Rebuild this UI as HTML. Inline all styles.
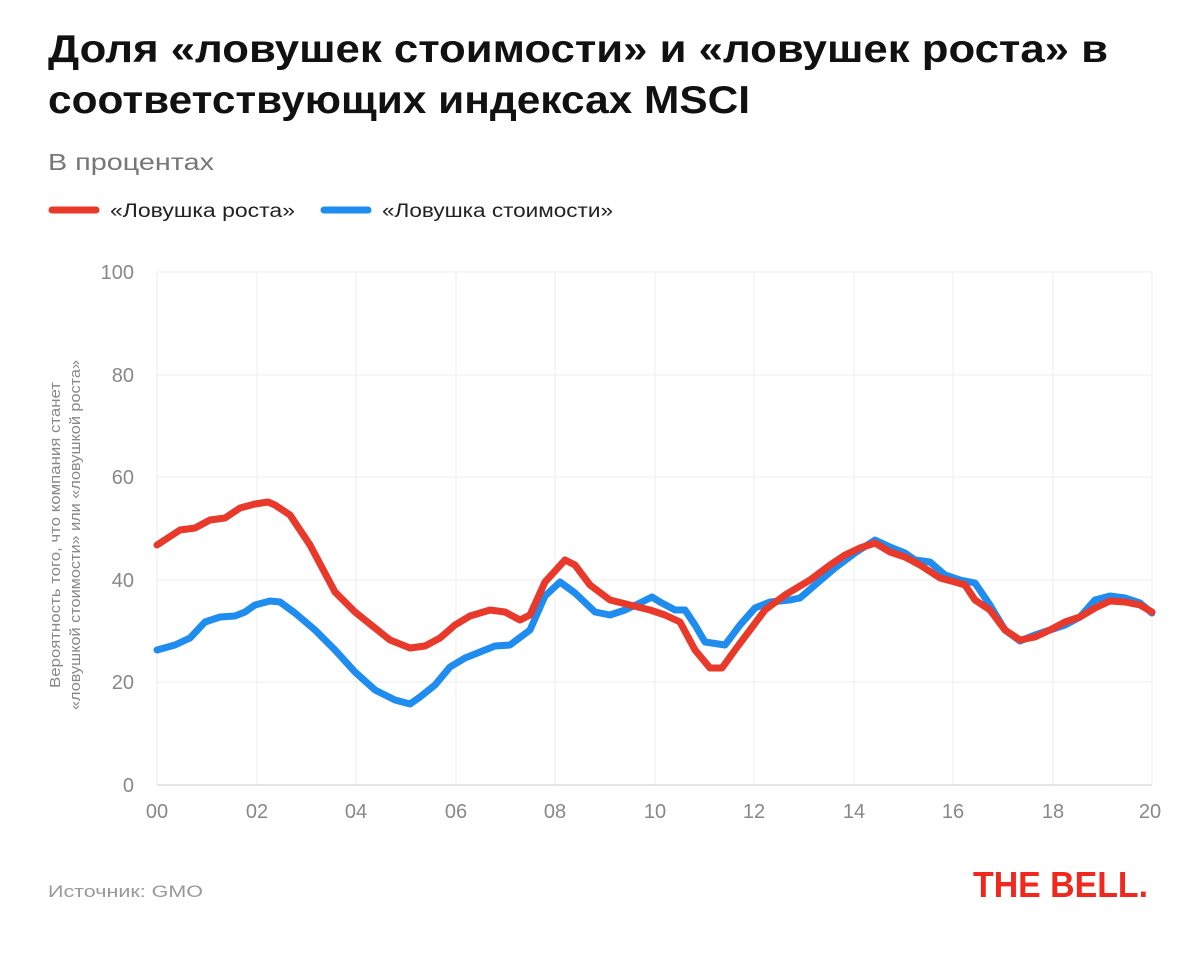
<!DOCTYPE html>
<html><head><meta charset="utf-8"><style>
body{margin:0;background:#fff;width:1200px;height:957px;overflow:hidden;font-family:"Liberation Sans",sans-serif;}
</style></head><body>
<svg width="1200" height="957" viewBox="0 0 1200 957" xmlns="http://www.w3.org/2000/svg" font-family="Liberation Sans, sans-serif">
<text x="48" y="62" font-size="39" font-weight="bold" fill="#111" textLength="1060" lengthAdjust="spacingAndGlyphs">Доля «ловушек стоимости» и «ловушек роста» в</text>
<text x="48" y="113" font-size="39" font-weight="bold" fill="#111" textLength="702" lengthAdjust="spacingAndGlyphs">соответствующих индексах MSCI</text>
<text x="48" y="170" font-size="23" fill="#777" textLength="166" lengthAdjust="spacingAndGlyphs">В процентах</text>
<line x1="52" y1="210" x2="96" y2="210" stroke="#e8392a" stroke-width="7" stroke-linecap="round"/>
<text x="110" y="217" font-size="19" fill="#222" textLength="185" lengthAdjust="spacingAndGlyphs">«Ловушка роста»</text>
<line x1="324" y1="210" x2="368" y2="210" stroke="#1f8cf0" stroke-width="7" stroke-linecap="round"/>
<text x="382" y="217" font-size="19" fill="#222" textLength="231" lengthAdjust="spacingAndGlyphs">«Ловушка стоимости»</text>
<g stroke="#ececec" stroke-width="1">
<line x1="157" y1="272" x2="1152" y2="272"/><line x1="157" y1="375" x2="1152" y2="375"/>
<line x1="157" y1="477" x2="1152" y2="477"/><line x1="157" y1="580" x2="1152" y2="580"/>
<line x1="157" y1="682" x2="1152" y2="682"/>
<line x1="157" y1="272" x2="157" y2="785"/><line x1="257" y1="272" x2="257" y2="785"/>
<line x1="356" y1="272" x2="356" y2="785"/><line x1="456" y1="272" x2="456" y2="785"/>
<line x1="555" y1="272" x2="555" y2="785"/><line x1="655" y1="272" x2="655" y2="785"/>
<line x1="754" y1="272" x2="754" y2="785"/><line x1="854" y1="272" x2="854" y2="785"/>
<line x1="953" y1="272" x2="953" y2="785"/><line x1="1053" y1="272" x2="1053" y2="785"/>
<line x1="1152" y1="272" x2="1152" y2="785"/>
</g>
<line x1="157" y1="785" x2="1152" y2="785" stroke="#ccc" stroke-width="1"/>
<g font-size="20" fill="#888" text-anchor="end">
<text x="134" y="279">100</text><text x="134" y="382">80</text><text x="134" y="484">60</text>
<text x="134" y="587">40</text><text x="134" y="689">20</text><text x="134" y="792">0</text>
</g>
<g font-size="20" fill="#888" text-anchor="middle">
<text x="157" y="818">00</text><text x="257" y="818">02</text><text x="356" y="818">04</text>
<text x="456" y="818">06</text><text x="555" y="818">08</text><text x="655" y="818">10</text>
<text x="754" y="818">12</text><text x="854" y="818">14</text><text x="953" y="818">16</text>
<text x="1053" y="818">18</text><text x="1150" y="818">20</text>
</g>
<g font-size="15" fill="#888" text-anchor="middle" transform="translate(60,535) rotate(-90)">
<text x="0" y="0" textLength="306" lengthAdjust="spacingAndGlyphs">Вероятность того, что компания станет</text>
<text x="0" y="20" textLength="350" lengthAdjust="spacingAndGlyphs">«ловушкой стоимости» или «ловушкой роста»</text>
</g>
<polyline fill="none" stroke="#1f8cf0" stroke-width="7" stroke-linejoin="round" stroke-linecap="round" points="157,650 175,645 190,638 205,622 220,617 235,616 245,612 255,605 270,601 280,602 295,613 315,630 335,650 355,672 375,690 395,700 410,704 420,697 435,685 450,667 465,658 480,652 495,646 510,645 530,630 545,596 560,582 575,593 595,612 610,615 625,610 640,603 652,597 660,602 675,610 685,610 695,625 705,642 725,645 740,625 755,608 770,602 790,600 800,598 815,585 835,568 855,553 875,540 890,547 905,553 915,560 930,562 945,575 960,580 975,583 990,605 1005,630 1020,641 1035,635 1050,630 1065,625 1080,617 1095,600 1110,596 1125,598 1140,603 1152,613"/>
<polyline fill="none" stroke="#e8392a" stroke-width="7" stroke-linejoin="round" stroke-linecap="round" points="157,545 180,530 195,528 210,520 225,518 240,508 255,504 268,502 275,505 290,515 310,545 335,592 355,612 375,628 390,640 410,648 425,646 440,638 455,625 470,616 490,610 505,612 520,620 530,615 545,582 565,560 575,565 590,585 610,600 630,605 650,610 665,615 680,622 695,650 710,668 722,668 735,650 750,630 765,610 785,595 810,580 830,565 845,555 860,548 875,543 890,552 905,557 920,565 940,578 955,582 965,585 975,600 990,610 1005,630 1020,640 1035,637 1050,630 1065,622 1080,617 1095,608 1110,601 1125,602 1140,605 1152,612"/>
<text x="48" y="897" font-size="17" fill="#999" textLength="155" lengthAdjust="spacingAndGlyphs">Источник: GMO</text>
<text x="973" y="897" font-size="36" font-weight="bold" fill="#f0281e" textLength="175" lengthAdjust="spacingAndGlyphs">THE BELL.</text>
</svg>
</body></html>
